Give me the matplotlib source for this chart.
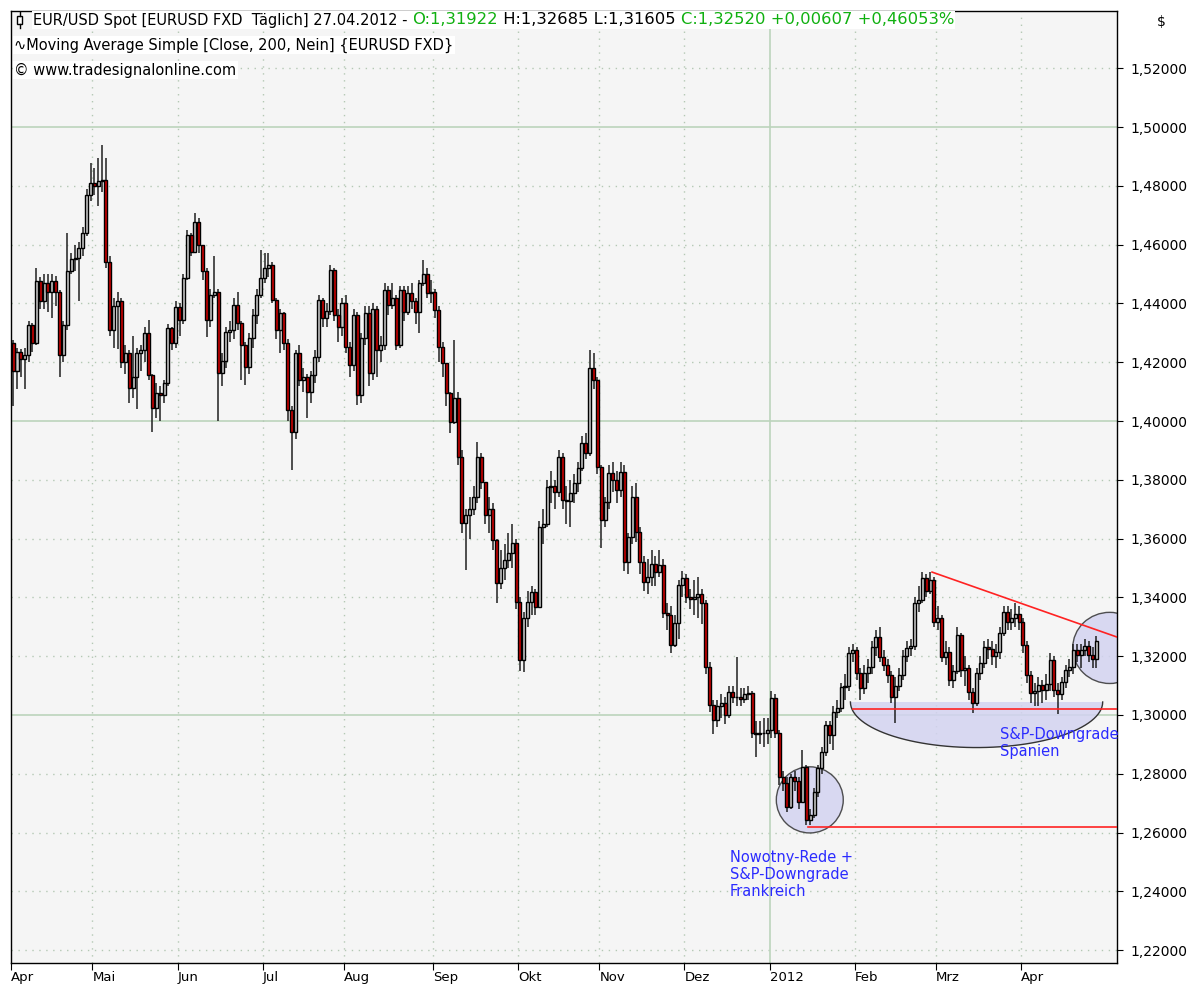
import numpy as np
import pandas as pd
import matplotlib
matplotlib.use('Agg')
import matplotlib.pyplot as plt
from matplotlib.patches import Ellipse, Polygon, Rectangle

# EUR/USD daily, 01.04.2011 - 27.04.2012 (one value per weekday)
dates = pd.bdate_range('2011-04-01', '2012-04-27')

first_open = 1.4265

close = np.array([
    # Apr 2011
    1.4170, 1.4235, 1.4210, 1.4225, 1.4325, 1.4265, 1.4475, 1.4410, 1.4470, 1.4440, 1.4478,
    1.4440, 1.4225, 1.4325, 1.4512, 1.4550, 1.4555, 1.4590, 1.4640, 1.4770, 1.4810,
    # Mai
    1.4800, 1.4815, 1.4820, 1.4540, 1.4310, 1.4390, 1.4410, 1.4200, 1.4230, 1.4112, 1.4150,
    1.4230, 1.4240, 1.4300, 1.4156, 1.4044, 1.4095, 1.4090, 1.4130, 1.4316, 1.4265, 1.4388,
    # Jun
    1.4345, 1.4486, 1.4633, 1.4575, 1.4677, 1.4600, 1.4510, 1.4344, 1.4430, 1.4440, 1.4163,
    1.4204, 1.4303, 1.4310, 1.4395, 1.4333, 1.4258, 1.4184, 1.4282, 1.4360, 1.4429, 1.4486,
    # Jul
    1.4520, 1.4530, 1.4412, 1.4310, 1.4367, 1.4265, 1.4037, 1.3963, 1.4231, 1.4140, 1.4150,
    1.4100, 1.4156, 1.4218, 1.4412, 1.4350, 1.4375, 1.4514, 1.4360, 1.4320, 1.4401,
    # Aug
    1.4252, 1.4190, 1.4360, 1.4088, 1.4282, 1.4367, 1.4163, 1.4380, 1.4240, 1.4260, 1.4446, 1.4395,
    1.4420, 1.4260, 1.4446, 1.4370, 1.4435, 1.4410, 1.4370, 1.4469, 1.4500, 1.4435, 1.4440,
    # Sep
    1.4378, 1.4252, 1.4197, 1.4095, 1.3997, 1.4080, 1.3878, 1.3653, 1.3680, 1.3700, 1.3741,
    1.3878, 1.3793, 1.3680, 1.3700, 1.3595, 1.3449, 1.3500, 1.3527, 1.3550, 1.3585, 1.3384,
    # Okt
    1.3187, 1.3330, 1.3385, 1.3418, 1.3367, 1.3640, 1.3650, 1.3776, 1.3780, 1.3760, 1.3878,
    1.3731, 1.3728, 1.3755, 1.3790, 1.3840, 1.3925, 1.3890, 1.4180, 1.4140, 1.3844,
    # Nov
    1.3663, 1.3724, 1.3823, 1.3800, 1.3765, 1.3827, 1.3520, 1.3605, 1.3741, 1.3622, 1.3520,
    1.3452, 1.3470, 1.3515, 1.3486, 1.3510, 1.3347, 1.3340, 1.3238, 1.3313, 1.3442, 1.3466,
    # Dez
    1.3401, 1.3395, 1.3400, 1.3410, 1.3380, 1.3163, 1.3034, 1.2983, 1.3030, 1.3040, 1.3000,
    1.3078, 1.3060, 1.3060, 1.3055, 1.3070, 1.3075, 1.2939, 1.2935, 1.2940, 1.2940, 1.2950,
    # Jan 2012
    1.3058, 1.2939, 1.2789, 1.2770, 1.2687, 1.2789, 1.2775, 1.2704, 1.2823, 1.2643, 1.2660,
    1.2738, 1.2820, 1.2874, 1.2966, 1.2932, 1.3010, 1.3024, 1.3095, 1.3100, 1.3211, 1.3221,
    # Feb
    1.3143, 1.3092, 1.3143, 1.3163, 1.3230, 1.3265, 1.3197, 1.3170, 1.3136, 1.3061, 1.3100,
    1.3136, 1.3200, 1.3228, 1.3235, 1.3380, 1.3390, 1.3466, 1.3420, 1.3460, 1.3316,
    # Mrz
    1.3330, 1.3197, 1.3215, 1.3119, 1.3150, 1.3272, 1.3153, 1.3160, 1.3078, 1.3041, 1.3143,
    1.3177, 1.3231, 1.3225, 1.3200, 1.3215, 1.3279, 1.3350, 1.3316, 1.3330, 1.3345, 1.3316,
    # Apr 2012
    1.3238, 1.3136, 1.3075, 1.3080, 1.3102, 1.3085, 1.3105, 1.3187, 1.3085, 1.3070,
    1.3112, 1.3153, 1.3163, 1.3221, 1.3204, 1.3220, 1.3235, 1.3204, 1.3192, 1.3252,
])

high = np.array([
    1.4275, 1.4250, 1.4245, 1.4250, 1.4340, 1.4335, 1.4520, 1.4490, 1.4500, 1.4500, 1.4500,
    1.4495, 1.4445, 1.4340, 1.4640, 1.4570, 1.4600, 1.4610, 1.4660, 1.4790, 1.4878,
    1.4860, 1.4895, 1.4940, 1.4895, 1.4560, 1.4420, 1.4440, 1.4420, 1.4260, 1.4240, 1.4290,
    1.4250, 1.4260, 1.4320, 1.4344, 1.4160, 1.4130, 1.4120, 1.4140, 1.4330, 1.4320, 1.4410,
    1.4400, 1.4500, 1.4650, 1.4640, 1.4707, 1.4690, 1.4600, 1.4520, 1.4450, 1.4560, 1.4450,
    1.4230, 1.4320, 1.4340, 1.4420, 1.4440, 1.4340, 1.4270, 1.4300, 1.4380, 1.4450, 1.4582,
    1.4571, 1.4571, 1.4540, 1.4420, 1.4380, 1.4370, 1.4280, 1.4050, 1.4240, 1.4260, 1.4180,
    1.4160, 1.4170, 1.4240, 1.4430, 1.4420, 1.4400, 1.4530, 1.4520, 1.4380, 1.4420,
    1.4430, 1.4270, 1.4380, 1.4370, 1.4300, 1.4390, 1.4390, 1.4400, 1.4390, 1.4290, 1.4470, 1.4460,
    1.4470, 1.4430, 1.4460, 1.4460, 1.4460, 1.4470, 1.4420, 1.4480, 1.4548, 1.4520, 1.4480,
    1.4450, 1.4390, 1.4270, 1.4160, 1.4100, 1.4276, 1.4100, 1.3900, 1.3700, 1.3740, 1.3780,
    1.3929, 1.3890, 1.3790, 1.3740, 1.3720, 1.3600, 1.3560, 1.3580, 1.3620, 1.3650, 1.3600,
    1.3400, 1.3350, 1.3420, 1.3440, 1.3430, 1.3660, 1.3700, 1.3800, 1.3830, 1.3800, 1.3900,
    1.3890, 1.3780, 1.3800, 1.3820, 1.3860, 1.3950, 1.3960, 1.4241, 1.4230, 1.4150,
    1.3850, 1.3740, 1.3850, 1.3860, 1.3830, 1.3860, 1.3850, 1.3620, 1.3780, 1.3790, 1.3640,
    1.3540, 1.3530, 1.3560, 1.3540, 1.3560, 1.3530, 1.3380, 1.3370, 1.3340, 1.3460, 1.3490,
    1.3480, 1.3430, 1.3460, 1.3470, 1.3430, 1.3390, 1.3180, 1.3050, 1.3050, 1.3070, 1.3060,
    1.3100, 1.3100, 1.3197, 1.3090, 1.3090, 1.3100, 1.3080, 1.2980, 1.2980, 1.2990, 1.2990,
    1.3080, 1.3070, 1.2950, 1.2810, 1.2790, 1.2800, 1.2810, 1.2790, 1.2880, 1.2830, 1.2680,
    1.2750, 1.2830, 1.2890, 1.2980, 1.2980, 1.3030, 1.3050, 1.3110, 1.3140, 1.3230, 1.3240,
    1.3230, 1.3160, 1.3170, 1.3190, 1.3250, 1.3290, 1.3300, 1.3220, 1.3190, 1.3150, 1.3130,
    1.3160, 1.3220, 1.3250, 1.3260, 1.3400, 1.3440, 1.3486, 1.3480, 1.3486, 1.3470,
    1.3370, 1.3340, 1.3250, 1.3230, 1.3170, 1.3300, 1.3280, 1.3200, 1.3170, 1.3090, 1.3160,
    1.3200, 1.3250, 1.3260, 1.3250, 1.3240, 1.3300, 1.3370, 1.3370, 1.3360, 1.3380, 1.3370,
    1.3330, 1.3250, 1.3150, 1.3110, 1.3130, 1.3120, 1.3140, 1.3210, 1.3200, 1.3110,
    1.3130, 1.3170, 1.3190, 1.3240, 1.3240, 1.3240, 1.3260, 1.3250, 1.3230, 1.3269,
])

low = np.array([
    1.4050, 1.4110, 1.4150, 1.4110, 1.4200, 1.4235, 1.4260, 1.4380, 1.4380, 1.4370, 1.4350,
    1.4390, 1.4150, 1.4200, 1.4310, 1.4500, 1.4510, 1.4410, 1.4560, 1.4630, 1.4750,
    1.4770, 1.4730, 1.4780, 1.4520, 1.4290, 1.4250, 1.4245, 1.4180, 1.4160, 1.4060, 1.4080,
    1.4040, 1.4170, 1.4200, 1.4140, 1.3963, 1.4010, 1.4000, 1.4060, 1.4120, 1.4240, 1.4250,
    1.4290, 1.4330, 1.4480, 1.4560, 1.4570, 1.4570, 1.4480, 1.4286, 1.4320, 1.4420, 1.4000,
    1.4120, 1.4180, 1.4270, 1.4280, 1.4310, 1.4140, 1.4122, 1.4160, 1.4250, 1.4330, 1.4420,
    1.4470, 1.4490, 1.4400, 1.4280, 1.4230, 1.4240, 1.4000, 1.3833, 1.3940, 1.4120, 1.4100,
    1.4010, 1.4060, 1.4130, 1.4200, 1.4320, 1.4320, 1.4360, 1.4340, 1.4270, 1.4290,
    1.4230, 1.4150, 1.4170, 1.4054, 1.4060, 1.4260, 1.4120, 1.4140, 1.4150, 1.4200, 1.4240, 1.4360,
    1.4380, 1.4240, 1.4250, 1.4340, 1.4360, 1.4380, 1.4330, 1.4300, 1.4460, 1.4420, 1.4400,
    1.4350, 1.4200, 1.4150, 1.4050, 1.3960, 1.3990, 1.3850, 1.3620, 1.3493, 1.3600, 1.3680,
    1.3720, 1.3770, 1.3650, 1.3620, 1.3560, 1.3380, 1.3430, 1.3460, 1.3500, 1.3500, 1.3360,
    1.3150, 1.3146, 1.3300, 1.3340, 1.3340, 1.3380, 1.3580, 1.3640, 1.3720, 1.3700, 1.3740,
    1.3700, 1.3650, 1.3640, 1.3720, 1.3760, 1.3830, 1.3870, 1.3880, 1.4110, 1.3820,
    1.3568, 1.3640, 1.3700, 1.3760, 1.3720, 1.3740, 1.3490, 1.3480, 1.3580, 1.3590, 1.3480,
    1.3420, 1.3410, 1.3440, 1.3440, 1.3470, 1.3330, 1.3290, 1.3210, 1.3230, 1.3260, 1.3400,
    1.3380, 1.3360, 1.3340, 1.3330, 1.3310, 1.3140, 1.3010, 1.2935, 1.2960, 1.2990, 1.2970,
    1.2990, 1.3040, 1.3030, 1.3030, 1.3040, 1.3050, 1.2920, 1.2857, 1.2900, 1.2890, 1.2900,
    1.2920, 1.2920, 1.2760, 1.2740, 1.2670, 1.2680, 1.2740, 1.2680, 1.2700, 1.2626, 1.2624,
    1.2650, 1.2720, 1.2800, 1.2860, 1.2900, 1.2880, 1.2990, 1.3010, 1.3050, 1.3080, 1.3180,
    1.3120, 1.3050, 1.3070, 1.3110, 1.3140, 1.3200, 1.3180, 1.3150, 1.3110, 1.3040, 1.2973,
    1.3080, 1.3120, 1.3180, 1.3200, 1.3220, 1.3350, 1.3380, 1.3400, 1.3410, 1.3300,
    1.3290, 1.3180, 1.3170, 1.3100, 1.3090, 1.3140, 1.3130, 1.3100, 1.3050, 1.3007, 1.3030,
    1.3120, 1.3160, 1.3190, 1.3170, 1.3160, 1.3190, 1.3270, 1.3290, 1.3290, 1.3300, 1.3290,
    1.3210, 1.3110, 1.3040, 1.3030, 1.3030, 1.3040, 1.3050, 1.3080, 1.3060, 1.3002,
    1.3050, 1.3090, 1.3130, 1.3140, 1.3180, 1.3160, 1.3200, 1.3180, 1.3160, 1.3161,
])

month_labels = ['Apr', 'Mai', 'Jun', 'Jul', 'Aug', 'Sep', 'Okt', 'Nov', 'Dez', '2012', 'Feb', 'Mrz', 'Apr']
price_ticks = [1.22, 1.24, 1.26, 1.28, 1.30, 1.32, 1.34, 1.36, 1.38, 1.40, 1.42, 1.44, 1.46, 1.48, 1.50, 1.52]

header_parts = [
    ('EUR/USD Spot [EURUSD FXD  T\u00e4glich] 27.04.2012 - ', 'black'),
    ('O:1,31922', '#10b010'),
    (' H:1,32685 L:1,31605 ', 'black'),
    ('C:1,32520 +0,00607 +0,46053%', '#10b010'),
]

opens = np.r_[first_open, close[:-1]]   # FX: each day opens at the previous close
n = len(close)
x = np.arange(n)

W, H = 1197, 985
fig = plt.figure(figsize=(W / 100, H / 100), dpi=100)
fig.patch.set_facecolor('white')
ax = fig.add_axes([11 / W, 1 - 963 / H, (1117 - 11) / W, (963 - 11) / H])
ax.set_facecolor('#f5f5f5')

x0, x1 = -0.55, 285.3
y0, y1 = 1.2156, 1.5395
ax.set_xlim(x0, x1)
ax.set_ylim(y0, y1)

# grid
for p in price_ticks:
    if round(p * 100) % 10 == 0:
        ax.axhline(p, color='#bcd4bc', lw=1.2, zorder=0)
    else:
        ax.axhline(p, color='#b4c8b4', lw=1.0, ls=(0, (1, 4)), zorder=0)

month_starts = [0] + [i for i in range(1, n) if dates[i].month != dates[i - 1].month]
for lab, i in zip(month_labels, month_starts):
    if lab == '2012':
        ax.axvline(i - 0.5, color='#bcd4bc', lw=1.2, zorder=0)
    elif i > 0:
        ax.axvline(i - 0.5, color='#b4c8b4', lw=1.0, ls=(0, (1, 4)), zorder=0)

# candles
hi = np.maximum(high, np.maximum(opens, close))
lo = np.minimum(low, np.minimum(opens, close))
ax.vlines(x, lo, hi, color='#202020', lw=1.1, zorder=2)
up = close >= opens
ax.bar(x[up], (close - opens)[up], bottom=opens[up], width=0.78,
       color='#c8c8c8', edgecolor='black', lw=1.0, zorder=3)
ax.bar(x[~up], (close - opens)[~up], bottom=opens[~up], width=0.78,
       color='#cc0000', edgecolor='black', lw=1.0, zorder=3)

# annotations
lav = '#d3d3f1'
ax.add_patch(Ellipse((205.9, 1.2711), 17.3, 0.0225, facecolor=lav, edgecolor='#333333',
                     lw=1.0, alpha=0.85, zorder=1))
ax.add_patch(Ellipse((283.4, 1.3228), 19.1, 0.0242, facecolor=lav, edgecolor='#333333',
                     lw=1.0, alpha=0.85, zorder=1))
t = np.linspace(np.pi, 2 * np.pi, 60)
cx, a, b, top = 249.0, 32.6, 0.0155, 1.3044
arc = np.c_[cx + a * np.cos(t), top + b * np.sin(t)]
ax.add_patch(Polygon(arc, closed=True, facecolor=lav, edgecolor='none', alpha=0.85, zorder=1))
ax.plot(arc[:, 0], arc[:, 1], color='#333333', lw=1.0, zorder=1)

red = '#ff2222'
ax.plot([237.5, x1], [1.3486, 1.3265], color=red, lw=1.2, zorder=4)
ax.plot([217.0, x1], [1.3020, 1.3020], color=red, lw=1.2, zorder=4)
ax.plot([205.5, x1], [1.2619, 1.2619], color=red, lw=1.2, zorder=4)

blue = '#2b2bff'
ax.text(185.2, 1.2542, 'Nowotny-Rede +\nS&P-Downgrade\nFrankreich', color=blue,
        fontsize=10.5, va='top', ha='left', linespacing=1.2, zorder=5)
ax.text(255.0, 1.2960, 'S&P-Downgrade\nSpanien', color=blue,
        fontsize=10.5, va='top', ha='left', linespacing=1.2, zorder=5)

# axes / ticks
ax.yaxis.tick_right()
ax.set_yticks(price_ticks)
ax.set_yticklabels([f'{p:.5f}'.replace('.', ',') for p in price_ticks], fontsize=10)
ax.tick_params(axis='y', length=4, pad=6)
ax.set_xticks([i - 0.5 for i in month_starts])
ax.set_xticklabels(month_labels, fontsize=9.5, ha='left')
ax.tick_params(axis='x', length=5, pad=0.5)
for s in ax.spines.values():
    s.set_color('black')
    s.set_linewidth(1.0)

fig.text(1157 / W, 1 - 22 / H, '$', fontsize=10, va='center', ha='left')

# header lines
prev = fig.text(33 / W, 1 - 20 / H, header_parts[0][0], color=header_parts[0][1], fontsize=10.5,
                va='center', ha='left', bbox=dict(facecolor='white', edgecolor='none', pad=1))
for s, c in header_parts[1:]:
    prev = ax.annotate(s, xy=(1, 0.5), xycoords=prev, va='center', ha='left', color=c,
                       fontsize=11.8, annotation_clip=False,
                       bbox=dict(facecolor='white', edgecolor='none', pad=1))
# candle glyph
fig.patches.append(Rectangle((17 / W, 1 - 24 / H), 5 / W, 8 / H, transform=fig.transFigure,
                             facecolor='white', edgecolor='black', lw=1, figure=fig))
fig.lines.append(plt.Line2D([19.5 / W, 19.5 / W], [1 - 28 / H, 1 - 24 / H],
                            transform=fig.transFigure, color='black', lw=1, figure=fig))
fig.lines.append(plt.Line2D([19.5 / W, 19.5 / W], [1 - 16 / H, 1 - 12 / H],
                            transform=fig.transFigure, color='black', lw=1, figure=fig))
fig.text(14 / W, 1 - 45 / H, '\u223fMoving Average Simple [Close, 200, Nein] {EURUSD FXD}',
         fontsize=10.5, va='center', ha='left',
         bbox=dict(facecolor='white', edgecolor='none', pad=1))
fig.text(14 / W, 1 - 70 / H, '\u00a9 www.tradesignalonline.com', fontsize=10.5, va='center',
         ha='left', bbox=dict(facecolor='white', edgecolor='none', pad=1))

fig.savefig('out.png', dpi=100)
